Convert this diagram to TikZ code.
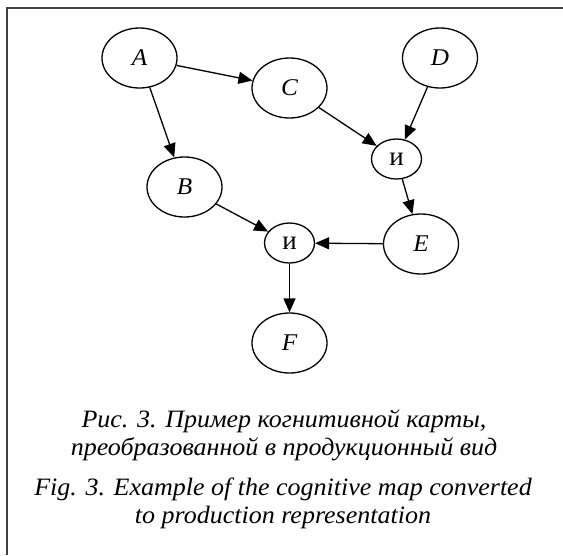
\documentclass[tikz,border=0pt]{standalone}
\usepackage{fontspec}
\setmainfont{Liberation Serif}
\usetikzlibrary{arrows.meta,shapes.geometric}
\newcommand{\wide}[2][1.04]{\scalebox{#1}[1]{#2}}
\begin{document}
\begin{tikzpicture}[x=1pt,y=-1pt,
  concept/.style={draw,ellipse,line width=1.3pt,minimum width=75pt,minimum height=60pt,inner sep=0pt,font=\fontsize{24}{24}\selectfont\itshape},
  andnode/.style={draw,ellipse,line width=1.3pt,minimum width=50pt,minimum height=40pt,inner sep=0pt,font=\fontsize{27}{27}\selectfont},
  link/.style={line width=1.3pt,-{Triangle[length=14pt,width=12pt]}},
  caption/.style={anchor=base,inner sep=0pt,font=\fontsize{25}{25}\selectfont\itshape}]
\useasboundingbox (0,0) rectangle (563,555);
% frame
\draw[line width=2pt,color=black!75] (563,8) -- (6.5,8) -- (6.5,555);
% concepts
\node[concept] (A) at (139.5,58) {\wide[1.05]{A}};
\node[concept] (C) at (289.5,88) {\wide[1.05]{C}};
\node[concept] (D) at (440,58) {\wide[1.05]{D}};
\node[concept] (B) at (184.5,187) {\wide[1.05]{B}};
\node[concept] (E) at (421,244) {\wide[1.05]{E}};
\node[concept] (F) at (289.5,343) {\wide[1.05]{F}};
% conjunction nodes
\node[andnode] (and1) at (396.5,159) {и};
\node[andnode] (and2) at (289.5,243) {и};
% links
\draw[link] (A) -- (C);
\draw[link] (A) -- (B);
\draw[link] (C) -- (and1);
\draw[link] (D) -- (and1);
\draw[link] (and1) -- (E);
\draw[link] (B) -- (and2);
\draw[link] (E) -- (and2);
\draw[link] (and2) -- (F);
% caption, Russian and English
\node[caption] (ru1) at (284,427) {\wide{Рис. 3. Пример когнитивной карты,}};
\node[caption] (ru2) at (284,455) {\wide{преобразованной в продукционный вид}};
\node[caption] (en1) at (283,495) {\wide{Fig. 3. Example of the cognitive map converted}};
\node[caption] (en2) at (283,523) {\wide{to production representation}};
\end{tikzpicture}
\end{document}
